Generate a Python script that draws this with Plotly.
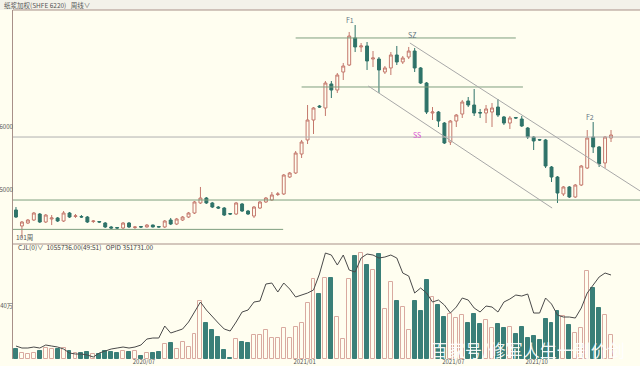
import plotly.graph_objects as go

# ---------------- data ----------------
weeks = [
    "2020-02-07","2020-02-14","2020-02-21","2020-02-28","2020-03-06","2020-03-13","2020-03-20","2020-03-27",
    "2020-04-03","2020-04-10","2020-04-17","2020-04-24","2020-04-30","2020-05-08","2020-05-15","2020-05-22",
    "2020-05-29","2020-06-05","2020-06-12","2020-06-19","2020-06-24","2020-07-03","2020-07-10","2020-07-17",
    "2020-07-24","2020-07-31","2020-08-07","2020-08-14","2020-08-21","2020-08-28","2020-09-04","2020-09-11",
    "2020-09-18","2020-09-25","2020-09-30","2020-10-09","2020-10-16","2020-10-23","2020-10-30","2020-11-06",
    "2020-11-13","2020-11-20","2020-11-27","2020-12-04","2020-12-11","2020-12-18","2020-12-25","2020-12-31",
    "2021-01-08","2021-01-15","2021-01-22","2021-01-29","2021-02-05","2021-02-10","2021-02-19","2021-02-26",
    "2021-03-05","2021-03-12","2021-03-19","2021-03-26","2021-04-02","2021-04-09","2021-04-16","2021-04-23",
    "2021-04-30","2021-05-07","2021-05-14","2021-05-21","2021-05-28","2021-06-04","2021-06-11","2021-06-18",
    "2021-06-25","2021-07-02","2021-07-09","2021-07-16","2021-07-23","2021-07-30","2021-08-06","2021-08-13",
    "2021-08-20","2021-08-27","2021-09-03","2021-09-10","2021-09-17","2021-09-24","2021-09-30","2021-10-08",
    "2021-10-15","2021-10-22","2021-10-29","2021-11-05","2021-11-12","2021-11-19","2021-11-26","2021-12-03",
    "2021-12-10","2021-12-17","2021-12-24","2021-12-31","2022-01-07",
]

opens = [4683,4429,4476,4524,4619,4492,4540,4556,4508,4635,4580,4580,4571,4500,4500,4476,4413,4405,4397,4476,
         4405,4420,4413,4444,4420,4413,4524,4460,4524,4571,4635,4794,4873,4794,4730,4714,4627,4619,4778,4667,
         4587,4714,4810,4841,4929,4937,5206,5270,5571,5794,6111,6333,6302,6683,6587,6873,6984,7413,7270,7286,
         7079,7079,6873,6937,7143,7032,7111,7206,6937,6698,6222,6238,6063,5762,6095,6206,6413,6349,6230,6222,
         6238,6317,6159,6063,6151,6127,5984,5841,5800,5794,5365,5206,4937,5048,4889,5079,5349,5841,5683,5429,5825]
highs = [4730,4508,4540,4651,4635,4619,4603,4571,4667,4651,4619,4603,4587,4524,4508,4492,4429,4413,4492,4492,
         4429,4429,4460,4452,4429,4524,4556,4556,4587,4651,4826,5048,4889,4810,4746,4730,4635,4810,4794,4683,
         4746,4826,4889,4968,4968,5254,5286,5619,5794,6349,6317,6349,6730,6730,6857,7016,7508,7619,7333,7349,
         7206,7111,6968,7190,7286,7127,7270,7254,6952,6714,6317,6254,6079,6111,6206,6429,6476,6603,6286,6349,
         6381,6444,6175,6175,6159,6175,6000,5857,5810,5810,5381,5222,5063,5063,5095,5397,5952,6079,5698,5857,5952]
lows  = [4556,4238,4460,4508,4476,4476,4444,4492,4492,4556,4556,4556,4476,4476,4476,4397,4381,4381,4381,4397,
         4381,4397,4405,4405,4405,4397,4444,4444,4508,4556,4619,4778,4778,4714,4698,4587,4603,4603,4651,4603,
         4556,4698,4794,4826,4905,4921,5190,5254,5508,5730,5889,6302,6175,6460,6540,6746,6968,7190,7190,6905,
         6952,6540,6841,6825,6984,7000,7079,6873,6683,6206,6111,6000,5730,5714,6000,6143,6317,6175,6143,6063,
         6000,6159,6032,5968,6127,6000,5810,5635,5778,5349,5127,4794,4905,4873,4873,5063,5333,5587,5365,5349,5762]
closes = [4571,4492,4524,4635,4492,4603,4556,4508,4635,4571,4590,4571,4492,4508,4492,4413,4397,4397,4476,4413,
          4413,4413,4444,4413,4413,4508,4460,4540,4571,4635,4810,4873,4794,4730,4714,4603,4619,4794,4667,4619,
          4730,4810,4873,4921,4937,5238,5270,5587,5762,6111,6302,6317,6698,6587,6825,6968,7444,7270,7286,7048,
          7095,6905,6937,7143,7032,7095,7206,6937,6698,6238,6238,6095,5746,6095,6190,6397,6349,6222,6222,6286,
          6302,6190,6063,6143,6143,6016,5841,5778,5794,5381,5206,4952,5048,4889,5079,5381,5825,5683,5413,5841,5873]

# weekly volume, unit 万手
volume = [44,27,22,27,36,49,44,44,49,36,27,27,31,22,22,36,31,27,36,31,
          36,13,27,27,31,67,71,44,76,53,111,258,160,129,98,40,4,89,76,71,
          107,107,129,93,93,138,93,142,160,253,360,293,364,364,187,89,360,462,476,422,
          400,471,222,347,262,231,129,262,213,356,280,240,187,200,182,196,160,204,156,173,
          138,156,138,142,111,142,93,102,84,178,160,213,191,151,116,138,396,320,227,196,105.57]

# open interest (lots)
open_interest = [209700,205700,205700,207700,205700,211700,209700,207700,203700,195700,193700,193700,191700,187700,
                 195700,199700,203700,205700,207700,205700,207700,211700,223700,225700,225700,249700,235700,239700,
                 243700,257700,277700,297700,281700,267700,255700,243700,239700,257700,277700,281700,297700,299700,
                 333700,335700,317700,335700,323700,307700,311700,315700,321700,353700,395700,391700,371700,391700,
                 361700,357700,385700,393700,391700,385700,387700,391700,385700,355700,349700,315700,325700,315700,
                 297700,301700,291700,275700,287700,305700,301700,285700,277700,289700,287700,277700,297700,303700,
                 311700,309700,313700,275700,275700,305700,293700,271700,267700,267700,265700,285700,315700,331700,
                 347700,355700,351731]

date_ticks = ["2020-07-03", "2021-01-08", "2021-07-02", "2021-10-08"]
date_labels = ["2020/07", "2021/01", "2021/07", "2021/10"]
price_ticks = [5000, 6000]
vol_ticks = [240]
vol_tick_labels = ["240万"]

# drawn support / resistance levels: (price, start index, end index, kind)
levels = [(7413, 47, 84, "g"), (6635, 48, 85.2, "g"), (5841, -0.5, 104.9, "s"),
          (4841, -0.5, 104.9, "g"), (4375, -0.5, 44.9, "g")]
# channel lines: (x0, p0, x1, p1)
channels = [(66.2, 7333, 104.9, 4984), (59.2, 6651, 90.1, 4714)]
marks = [("F1", 56.1, 7700, "#5f7580"), ("SZ", 66.6, 7460, "#5f7580"),
         ("SS", 67.4, 5873, "#d94fd0"), ("F2", 96.5, 6160, "#5f7580")]

# ---------------- style ----------------
BG = "#fffef0"
UP = "#c4786c"
DN = "#2f7369"
VUP = "#d9aaa0"
VDN = "#3a7f78"
AX = "#a89088"
FONT = "Noto Sans CJK SC, DejaVu Sans, sans-serif"

W, H = 640, 366
ML, MR, MT, MB = 13, 0, 10, 7
PH = H - MT - MB
split = (H - MB - 244) / PH

fig = go.Figure()
fig.add_trace(go.Candlestick(
    x=weeks, open=opens, high=highs, low=lows, close=closes,
    increasing=dict(line=dict(color=UP, width=1), fillcolor=BG),
    decreasing=dict(line=dict(color=DN, width=1), fillcolor=DN),
    whiskerwidth=0, xaxis="x", yaxis="y", hoverinfo="skip", showlegend=False))

up = [c >= o for o, c in zip(opens, closes)]
fig.add_trace(go.Bar(
    x=weeks, y=volume, xaxis="x2", yaxis="y2", width=0.66,
    marker=dict(color=[BG if u else VDN for u in up],
                line=dict(color=[VUP if u else VDN for u in up], width=1)),
    showlegend=False, hoverinfo="skip"))
fig.add_trace(go.Scatter(
    x=weeks, y=open_interest, xaxis="x2", yaxis="y3", mode="lines",
    line=dict(color="#4a4a4a", width=1), showlegend=False, hoverinfo="skip"))

shapes = []
for p, a, b, k in levels:
    shapes.append(dict(type="line", xref="x", yref="y", x0=a, x1=b, y0=p, y1=p,
                       line=dict(color="#7f9f7f" if k == "g" else "#b0b0b0", width=1)))
for x0, p0, x1, p1 in channels:
    shapes.append(dict(type="line", xref="x", yref="y", x0=x0, x1=x1, y0=p0, y1=p1,
                       line=dict(color="#a8a8a8", width=1)))
# header band and pane borders
shapes.append(dict(type="rect", xref="paper", yref="paper", x0=-ML / (W - ML), x1=1,
                   y0=1, y1=1 + MT / PH, fillcolor="#f3f2ea", line=dict(width=0), layer="below"))
shapes.append(dict(type="line", xref="paper", yref="paper", x0=0, x1=1, y0=1, y1=1,
                   line=dict(color=AX, width=1)))
shapes.append(dict(type="line", xref="paper", yref="paper", x0=0, x1=1, y0=split, y1=split,
                   line=dict(color=AX, width=1)))

ann = []
for t, xi, p, c in marks:
    ann.append(dict(text=t, x=xi, y=p, xref="x", yref="y", showarrow=False,
                    font=dict(size=7, color=c, family=FONT)))
ann.append(dict(text="纸浆加权(SHFE 6220)   周线∨", xref="paper", yref="paper",
                x=-11 / (W - ML), y=1 + 5 / PH, xanchor="left", yanchor="middle",
                showarrow=False, font=dict(size=6.5, color="#555555", family=FONT)))
ann.append(dict(text="101周", xref="paper", yref="paper", x=1 / (W - ML), y=(H - MB - 237) / PH,
                xanchor="left", yanchor="middle", showarrow=False,
                font=dict(size=6.5, color="#555555", family=FONT)))
ann.append(dict(text="CJL(0)∨  1055736.00(49:51)   OPID 351731.00", xref="paper", yref="paper",
                x=3 / (W - ML), y=(H - MB - 247) / PH, xanchor="left", yanchor="middle",
                showarrow=False, font=dict(size=6.5, color="#444444", family=FONT)))
ann.append(dict(text="百家号/修军人生一剧价剑", xref="paper", yref="paper",
                x=(528 - ML) / (W - ML), y=(H - MB - 349) / PH, xanchor="center", yanchor="middle",
                showarrow=False, font=dict(size=17, color="rgba(255,255,255,0.92)", family=FONT)))

xr = [-0.5, 104.87]
fig.update_layout(
    width=W, height=H, margin=dict(l=ML, r=MR, t=MT, b=MB, autoexpand=False),
    paper_bgcolor=BG, plot_bgcolor=BG, showlegend=False,
    shapes=shapes, annotations=ann, bargap=0,
    xaxis=dict(domain=[0, 1], anchor="y", type="category", range=xr, showticklabels=False,
               showgrid=False, zeroline=False, rangeslider=dict(visible=False), ticks="",
               automargin=False),
    yaxis=dict(domain=[split, 1], anchor="x", range=[4143, 7857], tickvals=price_ticks,
               showgrid=False, zeroline=False, showline=True, linecolor=AX, linewidth=1,
               ticks="", automargin=False, ticklabelstandoff=-2,
               tickfont=dict(size=6, color="#555555", family=FONT)),
    xaxis2=dict(domain=[0, 1], anchor="y2", type="category", matches="x", range=xr,
                tickvals=date_ticks, ticktext=date_labels, ticks="", showgrid=False,
                zeroline=False, automargin=False, ticklabelstandoff=-2,
                tickfont=dict(size=6, color="#555555", family=FONT), ticklabelshift=3),
    yaxis2=dict(domain=[0, split], anchor="x2", range=[0, 515.6], tickvals=vol_ticks,
                ticktext=vol_tick_labels, showgrid=False, zeroline=False, showline=True,
                linecolor=AX, linewidth=1, ticks="", automargin=False, ticklabelstandoff=-2,
                tickfont=dict(size=6, color="#555555", family=FONT)),
    yaxis3=dict(overlaying="y2", range=[183731, 413731], visible=False),
)

fig.write_html("out.html", config={"displayModeBar": False},
               post_script="document.body.style.margin='0';document.body.style.padding='0';")
